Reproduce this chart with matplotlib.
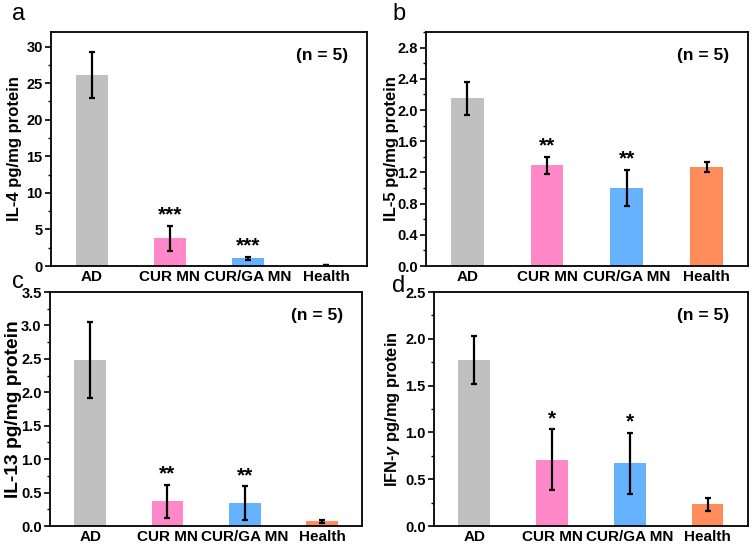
import matplotlib.pyplot as plt
from matplotlib.ticker import MultipleLocator, AutoMinorLocator

plt.rcParams['font.family'] = ['Liberation Sans', 'DejaVu Sans']
plt.rcParams['font.weight'] = 'bold'
plt.rcParams['mathtext.fontset'] = 'custom'
plt.rcParams['mathtext.it'] = 'Liberation Sans:italic:bold'
plt.rcParams['mathtext.rm'] = 'Liberation Sans:bold'

groups = ['AD', 'CUR MN', 'CUR/GA MN', 'Health']
colors = ['#c0c0c0', '#ff88c8', '#66b2ff', '#ff8c5a']

il4 = [26.1, 3.8, 1.05, 0.15]
il4_err = [3.15, 1.7, 0.2, 0.05]
il4_stars = ['', '***', '***', '']

il5 = [2.15, 1.29, 1.0, 1.27]
il5_err = [0.21, 0.11, 0.235, 0.06]
il5_stars = ['', '**', '**', '']

il13 = [2.48, 0.37, 0.34, 0.07]
il13_err = [0.57, 0.245, 0.255, 0.025]
il13_stars = ['', '**', '**', '']

ifng = [1.77, 0.71, 0.67, 0.23]
ifng_err = [0.255, 0.325, 0.325, 0.07]
ifng_stars = ['', '*', '*', '']

# letter, values, errors, stars, ylabel, ylabel size, ymax, major step
panels = [
    ('a', il4, il4_err, il4_stars, 'IL-4 pg/mg protein', 12, 32, 5),
    ('b', il5, il5_err, il5_stars, 'IL-5 pg/mg protein', 12, 3.0, 0.4),
    ('c', il13, il13_err, il13_stars, 'IL-13 pg/mg protein', 13.8, 3.5, 0.5),
    ('d', ifng, ifng_err, ifng_stars, r'IFN-$\gamma$ pg/mg protein', 11.8, 2.5, 0.5),
]

boxes = [
    [0.0676, 0.5128, 0.419, 0.4286],
    [0.565, 0.5128, 0.427, 0.4286],
    [0.0663, 0.0366, 0.414, 0.4286],
    [0.5756, 0.0366, 0.4164, 0.4286],
]
label_x = [-0.092, -0.084, -0.090, -0.102]
# baseline positions of the panel letters (pixels from top-left)
letter_px = [(12, 20), (392, 20), (12, 288), (392, 292)]

W, H = 754, 546
fig = plt.figure(figsize=(W / 100, H / 100), dpi=100)

for (letter, vals, errs, stars, ylab, ylsize, ytop, ystep), box, lx, lp in zip(
        panels, boxes, label_x, letter_px):
    ax = fig.add_axes(box)
    x = range(len(groups))
    ax.bar(x, vals, width=0.41, color=colors, edgecolor='none')
    ax.errorbar(x, vals, yerr=errs, fmt='none', ecolor='black', elinewidth=1.6,
                capsize=2.5, capthick=1.6)
    for i, s in enumerate(stars):
        if s:
            ax.text(i, vals[i] + errs[i] + 0.045 * ytop, s, ha='center', va='center',
                    fontsize=15, fontweight='bold')
    ax.set_xlim(-0.52, 3.52)
    ax.set_ylim(0, ytop)
    ax.set_xticks(list(x))
    ax.set_xticklabels(groups, fontsize=11, fontweight='bold')
    ax.tick_params(axis='x', length=0, pad=3)
    ax.yaxis.set_major_locator(MultipleLocator(ystep))
    ax.yaxis.set_minor_locator(AutoMinorLocator(2))
    ax.tick_params(axis='y', which='major', length=4, width=1.2, labelsize=10.5, pad=2)
    ax.tick_params(axis='y', which='minor', length=2, width=1)
    for lab in ax.get_yticklabels():
        lab.set_fontweight('bold')
    ax.set_ylabel(ylab, fontsize=ylsize, fontweight='bold')
    ax.yaxis.set_label_coords(lx, 0.5)
    for sp in ax.spines.values():
        sp.set_linewidth(1.3)
    ax.text(0.94, 0.9, '(n = 5)', transform=ax.transAxes, ha='right', va='center',
            fontsize=12.5, fontweight='bold')
    fig.text(lp[0] / W, 1 - lp[1] / H, letter, fontsize=17, fontweight='normal',
             va='baseline', ha='left')

fig.savefig('out.png', dpi=100)
